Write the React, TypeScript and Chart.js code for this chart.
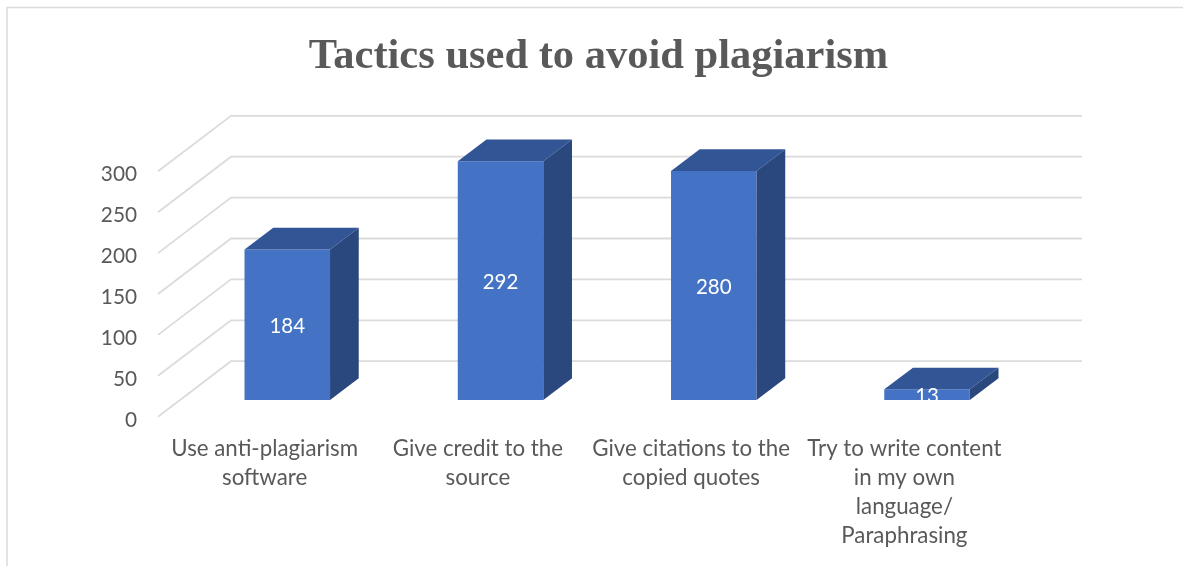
import React, { useEffect, useRef } from "react";
import { Chart, registerables } from "chart.js";

Chart.register(...registerables);

const categories: string[][] = [
  ["Use anti-plagiarism", "software"],
  ["Give credit to the", "source"],
  ["Give citations to the", "copied quotes"],
  ["Try to write content", "in my own", "language/", "Paraphrasing"],
];
const responses: number[] = [184, 292, 280, 13];
const yTickValues: number[] = [0, 50, 100, 150, 200, 250, 300];
const chartTitle = "Tactics used to avoid plagiarism";

const FONT = "Lato";
const TEXT = "#595959";
const GRID = "#dbdbdb";
const FRONT = "#4472C4";
const TOP = "#325596";
const SIDE = "#2A477E";

// oblique projection of the 3D column chart
const WALL_DX = 73;
const WALL_DY = 55.5;
const WALL_RIGHT_TRIM = 2;
const BAR_DX = 22.65;
const BAR_DY = 16.7;
const DEPTH_DX = 28.7;
const DEPTH_DY = 21.7;

const poly = (ctx: CanvasRenderingContext2D, pts: number[][], fill: string) => {
  ctx.beginPath();
  pts.forEach(([x, y], i) => (i ? ctx.lineTo(x, y) : ctx.moveTo(x, y)));
  ctx.closePath();
  ctx.fillStyle = fill;
  ctx.fill();
};

const frame3d = {
  id: "frame3d",
  beforeDatasetsDraw(chart: any) {
    const { ctx, chartArea, scales } = chart;
    ctx.save();
    // outer chart frame
    ctx.strokeStyle = GRID;
    ctx.lineWidth = 1.6;
    ctx.beginPath();
    ctx.moveTo(7, 566);
    ctx.lineTo(7, 7.5);
    ctx.lineTo(1183, 7.5);
    ctx.stroke();
    // floor-to-wall gridlines
    ctx.lineWidth = 1.8;
    yTickValues.forEach((v) => {
      const y = scales.y.getPixelForValue(v);
      ctx.beginPath();
      ctx.moveTo(chartArea.left, y);
      ctx.lineTo(chartArea.left + WALL_DX, y - WALL_DY);
      ctx.lineTo(chartArea.right + WALL_DX - WALL_RIGHT_TRIM, y - WALL_DY);
      ctx.stroke();
    });
    ctx.restore();
  },
  beforeDatasetDraw(chart: any) {
    chart.ctx.save();
    chart.ctx.translate(BAR_DX, -BAR_DY);
  },
  afterDatasetDraw(chart: any, args: any) {
    const { ctx } = chart;
    ctx.restore();
    const meta = chart.getDatasetMeta(args.index);
    meta.data.forEach((bar: any) => {
      const { x, y, width, base } = bar.getProps(["x", "y", "width", "base"], true);
      const l = x - width / 2 + BAR_DX;
      const r = x + width / 2 + BAR_DX;
      const t = y - BAR_DY;
      const b = base - BAR_DY;
      poly(ctx, [[l, t], [l + DEPTH_DX, t - DEPTH_DY], [r + DEPTH_DX, t - DEPTH_DY], [r, t]], TOP);
      poly(ctx, [[r, t], [r + DEPTH_DX, t - DEPTH_DY], [r + DEPTH_DX, b - DEPTH_DY], [r, b]], SIDE);
    });
  },
  afterDatasetsDraw(chart: any) {
    const { ctx, scales } = chart;
    const meta = chart.getDatasetMeta(0);
    ctx.save();
    const floor = scales.y.getPixelForValue(0) - BAR_DY;
    ctx.beginPath();
    ctx.rect(0, 0, chart.width, floor);
    ctx.clip();
    ctx.font = `20.5px ${FONT}`;
    ctx.fillStyle = "#ffffff";
    ctx.textAlign = "center";
    ctx.textBaseline = "middle";
    meta.data.forEach((bar: any, i: number) => {
      const { x, y, base } = bar.getProps(["x", "y", "base"], true);
      ctx.fillText(String(responses[i]), x + BAR_DX, (y + base) / 2 - BAR_DY + 1.5);
    });
    ctx.restore();
  },
};

export default function App() {
  const ref = useRef<HTMLCanvasElement | null>(null);

  useEffect(() => {
    document.body.style.margin = "0";
    const chart = new Chart(ref.current as HTMLCanvasElement, {
      type: "bar",
      data: {
        labels: categories as any,
        datasets: [
          {
            data: responses,
            backgroundColor: FRONT,
            borderWidth: 0,
            barPercentage: 0.401,
            categoryPercentage: 1,
            yAxisID: "y",
          },
        ],
      },
      options: {
        responsive: false,
        animation: false,
        layout: { padding: { left: 14, right: 0, top: 0, bottom: 0 } },
        plugins: {
          legend: { display: false },
          tooltip: { enabled: false },
          title: {
            display: true,
            text: chartTitle,
            color: TEXT,
            font: { family: "'Liberation Serif'", size: 42.5, weight: "bold", lineHeight: 1.2 },
            padding: { top: 32, bottom: 88.3 },
          },
        },
        scales: {
          x: {
            grid: { display: false, drawTicks: false },
            border: { display: false },
            ticks: {
              color: TEXT,
              font: { family: FONT, size: 22.3, lineHeight: 1.3 },
              padding: 18,
              maxRotation: 0,
              minRotation: 0,
              autoSkip: false,
            },
            afterFit: (s: any) => {
              s.height = 149.3;
            },
          },
          y: {
            min: 0,
            max: 300,
            grid: { display: false, drawTicks: false },
            border: { display: false },
            ticks: {
              stepSize: 50,
              color: TEXT,
              font: { family: FONT, size: 20.8, lineHeight: 0.3 },
              padding: 21,
              // the empty first line nudges each number below its gridline start
              callback: (v: any) => ["", String(v)],
            },
            afterFit: (s: any) => {
              s.width = 144;
            },
          },
          spare: {
            position: "right",
            grid: { display: false },
            border: { display: false },
            ticks: { display: false },
            afterFit: (s: any) => {
              s.width = 172;
            },
          },
        },
      },
      plugins: [frame3d],
    } as any);
    return () => chart.destroy();
  }, []);

  return (
    <canvas
      ref={ref}
      width={1183}
      height={566}
      style={{ position: "fixed", left: 0, top: 0, display: "block", background: "#ffffff" }}
    />
  );
}
